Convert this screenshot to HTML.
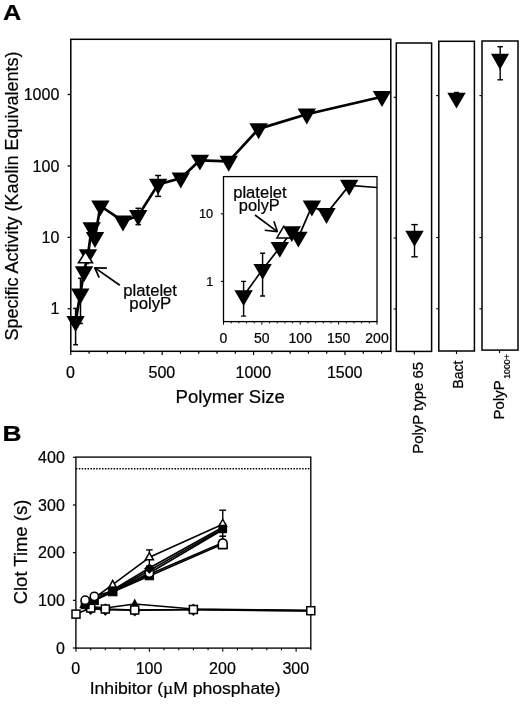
<!DOCTYPE html>
<html><head><meta charset="utf-8"><title>Figure</title>
<style>
html,body{margin:0;padding:0;background:#fff;overflow:hidden;}
svg{display:block;font-family:'Liberation Sans', Arial, Helvetica, sans-serif;fill:#000;}
svg text{stroke:#000;stroke-width:0.22px;}
svg polygon, svg rect, svg circle{shape-rendering:geometricPrecision;}
</style></head><body>
<svg width="520" height="709" viewBox="0 0 520 709">
<rect x="0" y="0" width="520" height="709" fill="#fff" stroke="none"/>
<text x="3.00" y="20.00" font-size="22" text-anchor="start" font-weight="bold" textLength="18.30" lengthAdjust="spacingAndGlyphs" >A</text>
<rect x="70.80" y="39.30" width="320.00" height="312.00" fill="none" stroke="#000" stroke-width="1.5"/>
<line x1="67.60" y1="308.75" x2="70.80" y2="308.75" stroke="#000" stroke-width="1.3" />
<text x="59.30" y="314.35" font-size="16" text-anchor="end" font-weight="normal" >1</text>
<line x1="67.60" y1="237.33" x2="70.80" y2="237.33" stroke="#000" stroke-width="1.3" />
<text x="59.30" y="242.93" font-size="16" text-anchor="end" font-weight="normal" >10</text>
<line x1="67.60" y1="165.92" x2="70.80" y2="165.92" stroke="#000" stroke-width="1.3" />
<text x="59.30" y="171.52" font-size="16" text-anchor="end" font-weight="normal" >100</text>
<line x1="67.60" y1="94.50" x2="70.80" y2="94.50" stroke="#000" stroke-width="1.3" />
<text x="59.30" y="100.10" font-size="16" text-anchor="end" font-weight="normal" >1000</text>
<line x1="70.80" y1="351.30" x2="70.80" y2="354.90" stroke="#000" stroke-width="1.2" />
<line x1="89.08" y1="351.30" x2="89.08" y2="353.70" stroke="#000" stroke-width="1.2" />
<line x1="107.36" y1="351.30" x2="107.36" y2="353.70" stroke="#000" stroke-width="1.2" />
<line x1="125.64" y1="351.30" x2="125.64" y2="353.70" stroke="#000" stroke-width="1.2" />
<line x1="143.92" y1="351.30" x2="143.92" y2="353.70" stroke="#000" stroke-width="1.2" />
<line x1="162.20" y1="351.30" x2="162.20" y2="354.90" stroke="#000" stroke-width="1.2" />
<line x1="180.48" y1="351.30" x2="180.48" y2="353.70" stroke="#000" stroke-width="1.2" />
<line x1="198.76" y1="351.30" x2="198.76" y2="353.70" stroke="#000" stroke-width="1.2" />
<line x1="217.04" y1="351.30" x2="217.04" y2="353.70" stroke="#000" stroke-width="1.2" />
<line x1="235.32" y1="351.30" x2="235.32" y2="353.70" stroke="#000" stroke-width="1.2" />
<line x1="253.60" y1="351.30" x2="253.60" y2="354.90" stroke="#000" stroke-width="1.2" />
<line x1="271.88" y1="351.30" x2="271.88" y2="353.70" stroke="#000" stroke-width="1.2" />
<line x1="290.16" y1="351.30" x2="290.16" y2="353.70" stroke="#000" stroke-width="1.2" />
<line x1="308.44" y1="351.30" x2="308.44" y2="353.70" stroke="#000" stroke-width="1.2" />
<line x1="326.72" y1="351.30" x2="326.72" y2="353.70" stroke="#000" stroke-width="1.2" />
<line x1="345.00" y1="351.30" x2="345.00" y2="354.90" stroke="#000" stroke-width="1.2" />
<line x1="363.28" y1="351.30" x2="363.28" y2="353.70" stroke="#000" stroke-width="1.2" />
<line x1="381.56" y1="351.30" x2="381.56" y2="353.70" stroke="#000" stroke-width="1.2" />
<text x="70.50" y="377.60" font-size="16" text-anchor="middle" font-weight="normal" >0</text>
<text x="161.90" y="377.60" font-size="16" text-anchor="middle" font-weight="normal" >500</text>
<text x="253.30" y="377.60" font-size="16" text-anchor="middle" font-weight="normal" >1000</text>
<text x="344.70" y="377.60" font-size="16" text-anchor="middle" font-weight="normal" >1500</text>
<text x="175.60" y="403.00" font-size="18" text-anchor="start" font-weight="normal" textLength="109.30" lengthAdjust="spacingAndGlyphs" >Polymer Size</text>
<text x="18.00" y="340.40" font-size="17.8" text-anchor="start" font-weight="normal" transform="rotate(-90 18.00 340.40)" textLength="289.00" lengthAdjust="spacingAndGlyphs" >Specific Activity (Kaolin Equivalents)</text>
<clipPath id="cA"><rect x="70.8" y="39.3" width="320.6" height="312.0"/></clipPath>
<g>
<polyline points="75.60,321.60 80.30,294.10 84.00,271.90 88.00,254.80 91.70,227.90 95.00,237.60 100.40,206.00 123.00,221.20 138.20,215.70 158.10,184.40 180.80,178.20 199.90,160.30 228.70,161.40 258.60,128.90 306.80,114.20 382.00,96.70" fill="none" stroke="#000" stroke-width="2.7" stroke-linejoin="round"/>
<line x1="75.60" y1="308.40" x2="75.60" y2="344.70" stroke="#000" stroke-width="1.5" />
<line x1="73.20" y1="308.40" x2="78.00" y2="308.40" stroke="#000" stroke-width="1.5" />
<line x1="73.20" y1="344.70" x2="78.00" y2="344.70" stroke="#000" stroke-width="1.5" />
<line x1="80.50" y1="278.30" x2="80.50" y2="323.50" stroke="#000" stroke-width="1.5" />
<line x1="78.10" y1="278.30" x2="82.90" y2="278.30" stroke="#000" stroke-width="1.5" />
<line x1="78.10" y1="323.50" x2="82.90" y2="323.50" stroke="#000" stroke-width="1.5" />
<line x1="138.20" y1="208.30" x2="138.20" y2="224.60" stroke="#000" stroke-width="1.5" />
<line x1="135.45" y1="208.30" x2="140.95" y2="208.30" stroke="#000" stroke-width="1.5" />
<line x1="135.45" y1="224.60" x2="140.95" y2="224.60" stroke="#000" stroke-width="1.5" />
<line x1="158.10" y1="175.50" x2="158.10" y2="196.40" stroke="#000" stroke-width="1.5" />
<line x1="155.10" y1="175.50" x2="161.10" y2="175.50" stroke="#000" stroke-width="1.5" />
<line x1="155.10" y1="196.40" x2="161.10" y2="196.40" stroke="#000" stroke-width="1.5" />
<polygon points="66.40,316.00 84.80,316.00 75.60,331.90" fill="#000"/>
<polygon points="71.10,288.50 89.50,288.50 80.30,304.40" fill="#000"/>
<polygon points="74.80,266.30 93.20,266.30 84.00,282.20" fill="#000"/>
<polygon points="78.80,249.20 97.20,249.20 88.00,265.10" fill="#000"/>
<polygon points="77.10,263.60 93.90,263.60 85.50,250.10" fill="#000"/>
<polygon points="79.98,262.00 91.02,262.00 85.50,253.13" fill="#fff"/>
<polygon points="82.50,222.30 100.90,222.30 91.70,238.20" fill="#000"/>
<polygon points="85.80,232.00 104.20,232.00 95.00,247.90" fill="#000"/>
<polygon points="91.20,200.40 109.60,200.40 100.40,216.30" fill="#000"/>
<polygon points="113.80,215.60 132.20,215.60 123.00,231.50" fill="#000"/>
<polygon points="129.00,210.10 147.40,210.10 138.20,226.00" fill="#000"/>
<polygon points="148.90,178.80 167.30,178.80 158.10,194.70" fill="#000"/>
<polygon points="171.60,172.60 190.00,172.60 180.80,188.50" fill="#000"/>
<polygon points="190.70,154.70 209.10,154.70 199.90,170.60" fill="#000"/>
<polygon points="219.50,155.80 237.90,155.80 228.70,171.70" fill="#000"/>
<polygon points="249.40,123.30 267.80,123.30 258.60,139.20" fill="#000"/>
<polygon points="297.60,108.60 316.00,108.60 306.80,124.50" fill="#000"/>
<polygon points="372.80,91.10 391.20,91.10 382.00,107.00" fill="#000"/>
</g>
<text x="123.30" y="295.80" font-size="16.3" text-anchor="start" font-weight="normal" textLength="53.70" lengthAdjust="spacingAndGlyphs" >platelet</text>
<text x="129.30" y="309.00" font-size="16.3" text-anchor="start" font-weight="normal" textLength="42.00" lengthAdjust="spacingAndGlyphs" >polyP</text>
<line x1="119.80" y1="285.20" x2="95.00" y2="267.90" stroke="#000" stroke-width="1.7" />
<line x1="94.30" y1="267.80" x2="106.90" y2="268.10" stroke="#000" stroke-width="1.7" />
<line x1="94.60" y1="267.40" x2="99.20" y2="277.60" stroke="#000" stroke-width="1.7" />
<rect x="223.50" y="176.60" width="153.50" height="145.00" fill="#fff" stroke="#000" stroke-width="1.3"/>
<line x1="220.90" y1="281.40" x2="223.50" y2="281.40" stroke="#000" stroke-width="1.1" />
<text x="213.20" y="286.00" font-size="12.7" text-anchor="end" font-weight="normal" stroke-width="0.25">1</text>
<line x1="220.90" y1="213.80" x2="223.50" y2="213.80" stroke="#000" stroke-width="1.1" />
<text x="213.20" y="218.40" font-size="12.7" text-anchor="end" font-weight="normal" stroke-width="0.25">10</text>
<line x1="223.50" y1="321.60" x2="223.50" y2="324.60" stroke="#000" stroke-width="1.0" />
<line x1="231.18" y1="321.60" x2="231.18" y2="323.40" stroke="#000" stroke-width="1.0" />
<line x1="238.85" y1="321.60" x2="238.85" y2="323.40" stroke="#000" stroke-width="1.0" />
<line x1="246.53" y1="321.60" x2="246.53" y2="323.40" stroke="#000" stroke-width="1.0" />
<line x1="254.20" y1="321.60" x2="254.20" y2="323.40" stroke="#000" stroke-width="1.0" />
<line x1="261.88" y1="321.60" x2="261.88" y2="324.60" stroke="#000" stroke-width="1.0" />
<line x1="269.55" y1="321.60" x2="269.55" y2="323.40" stroke="#000" stroke-width="1.0" />
<line x1="277.23" y1="321.60" x2="277.23" y2="323.40" stroke="#000" stroke-width="1.0" />
<line x1="284.90" y1="321.60" x2="284.90" y2="323.40" stroke="#000" stroke-width="1.0" />
<line x1="292.57" y1="321.60" x2="292.57" y2="323.40" stroke="#000" stroke-width="1.0" />
<line x1="300.25" y1="321.60" x2="300.25" y2="324.60" stroke="#000" stroke-width="1.0" />
<line x1="307.93" y1="321.60" x2="307.93" y2="323.40" stroke="#000" stroke-width="1.0" />
<line x1="315.60" y1="321.60" x2="315.60" y2="323.40" stroke="#000" stroke-width="1.0" />
<line x1="323.27" y1="321.60" x2="323.27" y2="323.40" stroke="#000" stroke-width="1.0" />
<line x1="330.95" y1="321.60" x2="330.95" y2="323.40" stroke="#000" stroke-width="1.0" />
<line x1="338.62" y1="321.60" x2="338.62" y2="324.60" stroke="#000" stroke-width="1.0" />
<line x1="346.30" y1="321.60" x2="346.30" y2="323.40" stroke="#000" stroke-width="1.0" />
<line x1="353.98" y1="321.60" x2="353.98" y2="323.40" stroke="#000" stroke-width="1.0" />
<line x1="361.65" y1="321.60" x2="361.65" y2="323.40" stroke="#000" stroke-width="1.0" />
<line x1="369.32" y1="321.60" x2="369.32" y2="323.40" stroke="#000" stroke-width="1.0" />
<line x1="377.00" y1="321.60" x2="377.00" y2="324.60" stroke="#000" stroke-width="1.0" />
<text x="223.50" y="343.30" font-size="14" text-anchor="middle" font-weight="normal" stroke-width="0.25">0</text>
<text x="261.88" y="343.30" font-size="14" text-anchor="middle" font-weight="normal" stroke-width="0.25">50</text>
<text x="300.25" y="343.30" font-size="14" text-anchor="middle" font-weight="normal" stroke-width="0.25">100</text>
<text x="338.62" y="343.30" font-size="14" text-anchor="middle" font-weight="normal" stroke-width="0.25">150</text>
<text x="377.00" y="343.30" font-size="14" text-anchor="middle" font-weight="normal" stroke-width="0.25">200</text>
<clipPath id="cI"><rect x="223.5" y="176.6" width="153.5" height="145.00000000000003"/></clipPath>
<g clip-path="url(#cI)">
<polyline points="243.60,295.80 262.60,269.50 279.80,247.50 291.80,231.80 298.40,237.30 311.90,206.20 326.50,213.60 349.20,185.40 377.00,187.50" fill="none" stroke="#000" stroke-width="1.7" stroke-linejoin="round"/>
<line x1="243.60" y1="281.40" x2="243.60" y2="316.10" stroke="#000" stroke-width="1.4" />
<line x1="241.10" y1="281.40" x2="246.10" y2="281.40" stroke="#000" stroke-width="1.4" />
<line x1="241.10" y1="316.10" x2="246.10" y2="316.10" stroke="#000" stroke-width="1.4" />
<line x1="262.60" y1="253.30" x2="262.60" y2="296.00" stroke="#000" stroke-width="1.4" />
<line x1="260.10" y1="253.30" x2="265.10" y2="253.30" stroke="#000" stroke-width="1.4" />
<line x1="260.10" y1="296.00" x2="265.10" y2="296.00" stroke="#000" stroke-width="1.4" />
<polygon points="234.40,290.20 252.80,290.20 243.60,306.10" fill="#000"/>
<polygon points="253.40,263.90 271.80,263.90 262.60,279.80" fill="#000"/>
<polygon points="270.60,241.90 289.00,241.90 279.80,257.80" fill="#000"/>
<polygon points="282.60,226.20 301.00,226.20 291.80,242.10" fill="#000"/>
<polygon points="275.50,238.73 292.10,238.73 283.80,224.83" fill="#000"/>
<polygon points="278.14,237.23 289.46,237.23 283.80,227.76" fill="#fff"/>
<polygon points="289.20,231.70 307.60,231.70 298.40,247.60" fill="#000"/>
<polygon points="302.70,200.60 321.10,200.60 311.90,216.50" fill="#000"/>
<polygon points="317.30,208.00 335.70,208.00 326.50,223.90" fill="#000"/>
<polygon points="340.00,179.80 358.40,179.80 349.20,195.70" fill="#000"/>
</g>
<text x="233.20" y="198.40" font-size="16.3" text-anchor="start" font-weight="normal" textLength="53.50" lengthAdjust="spacingAndGlyphs" >platelet</text>
<text x="238.80" y="210.60" font-size="16.3" text-anchor="start" font-weight="normal" textLength="41.00" lengthAdjust="spacingAndGlyphs" >polyP</text>
<line x1="255.00" y1="215.00" x2="277.00" y2="231.30" stroke="#000" stroke-width="1.6" />
<line x1="277.50" y1="231.60" x2="264.70" y2="230.30" stroke="#000" stroke-width="1.6" />
<line x1="277.40" y1="231.80" x2="273.90" y2="221.20" stroke="#000" stroke-width="1.6" />
<rect x="396.30" y="43.00" width="35.30" height="308.40" fill="none" stroke="#000" stroke-width="1.5"/>
<line x1="393.70" y1="97.30" x2="396.30" y2="97.30" stroke="#000" stroke-width="1.1" />
<line x1="393.70" y1="238.00" x2="396.30" y2="238.00" stroke="#000" stroke-width="1.1" />
<line x1="393.70" y1="309.00" x2="396.30" y2="309.00" stroke="#000" stroke-width="1.1" />
<line x1="414.30" y1="351.40" x2="414.30" y2="354.40" stroke="#000" stroke-width="1.1" />
<rect x="438.80" y="41.30" width="35.60" height="309.70" fill="none" stroke="#000" stroke-width="1.5"/>
<line x1="436.20" y1="95.60" x2="438.80" y2="95.60" stroke="#000" stroke-width="1.1" />
<line x1="436.20" y1="237.50" x2="438.80" y2="237.50" stroke="#000" stroke-width="1.1" />
<line x1="436.20" y1="308.80" x2="438.80" y2="308.80" stroke="#000" stroke-width="1.1" />
<line x1="456.50" y1="351.00" x2="456.50" y2="354.00" stroke="#000" stroke-width="1.1" />
<rect x="482.00" y="41.00" width="36.00" height="309.10" fill="none" stroke="#000" stroke-width="1.5"/>
<line x1="479.40" y1="95.60" x2="482.00" y2="95.60" stroke="#000" stroke-width="1.1" />
<line x1="479.40" y1="237.50" x2="482.00" y2="237.50" stroke="#000" stroke-width="1.1" />
<line x1="479.40" y1="308.80" x2="482.00" y2="308.80" stroke="#000" stroke-width="1.1" />
<line x1="499.50" y1="350.10" x2="499.50" y2="353.10" stroke="#000" stroke-width="1.1" />
<line x1="414.50" y1="224.60" x2="414.50" y2="256.80" stroke="#000" stroke-width="1.4" />
<line x1="411.25" y1="224.60" x2="417.75" y2="224.60" stroke="#000" stroke-width="1.4" />
<line x1="411.25" y1="256.80" x2="417.75" y2="256.80" stroke="#000" stroke-width="1.4" />
<polygon points="405.30,230.80 423.70,230.80 414.50,246.70" fill="#000"/>
<line x1="456.50" y1="92.50" x2="456.50" y2="96.00" stroke="#000" stroke-width="1.4" />
<line x1="454.00" y1="92.50" x2="459.00" y2="92.50" stroke="#000" stroke-width="1.4" />
<line x1="454.00" y1="96.00" x2="459.00" y2="96.00" stroke="#000" stroke-width="1.4" />
<polygon points="447.30,92.70 465.70,92.70 456.50,108.60" fill="#000"/>
<line x1="500.20" y1="46.70" x2="500.20" y2="79.80" stroke="#000" stroke-width="1.4" />
<line x1="497.45" y1="46.70" x2="502.95" y2="46.70" stroke="#000" stroke-width="1.4" />
<line x1="497.45" y1="79.80" x2="502.95" y2="79.80" stroke="#000" stroke-width="1.4" />
<polygon points="491.00,53.87 509.00,53.87 500.00,69.87" fill="#000"/>
<text x="422.80" y="453.80" font-size="15" text-anchor="start" font-weight="normal" transform="rotate(-90 422.80 453.80)" textLength="91.80" lengthAdjust="spacingAndGlyphs" >PolyP type 65</text>
<text x="463.00" y="388.80" font-size="15" text-anchor="start" font-weight="normal" transform="rotate(-90 463.00 388.80)" textLength="28.30" lengthAdjust="spacingAndGlyphs" >Bact</text>
<text x="504.50" y="419.40" font-size="15" text-anchor="start" font-weight="normal" transform="rotate(-90 504.50 419.40)" textLength="39.00" lengthAdjust="spacingAndGlyphs" >PolyP</text>
<text x="510.00" y="378.80" font-size="9" text-anchor="start" font-weight="normal" transform="rotate(-90 510.00 378.80)" textLength="24.60" lengthAdjust="spacingAndGlyphs" stroke-width="0.1">1000+</text>
<text x="2.40" y="441.30" font-size="22.3" text-anchor="start" font-weight="bold" textLength="19.00" lengthAdjust="spacingAndGlyphs" >B</text>
<rect x="75.90" y="457.10" width="234.90" height="191.00" fill="none" stroke="#000" stroke-width="1.35"/>
<line x1="72.90" y1="648.00" x2="75.90" y2="648.00" stroke="#000" stroke-width="1.2" />
<text x="64.80" y="653.60" font-size="16" text-anchor="end" font-weight="normal" >0</text>
<line x1="72.90" y1="600.32" x2="75.90" y2="600.32" stroke="#000" stroke-width="1.2" />
<text x="64.80" y="605.92" font-size="16" text-anchor="end" font-weight="normal" >100</text>
<line x1="72.90" y1="552.64" x2="75.90" y2="552.64" stroke="#000" stroke-width="1.2" />
<text x="64.80" y="558.24" font-size="16" text-anchor="end" font-weight="normal" >200</text>
<line x1="72.90" y1="504.96" x2="75.90" y2="504.96" stroke="#000" stroke-width="1.2" />
<text x="64.80" y="510.56" font-size="16" text-anchor="end" font-weight="normal" >300</text>
<line x1="72.90" y1="457.28" x2="75.90" y2="457.28" stroke="#000" stroke-width="1.2" />
<text x="64.80" y="462.88" font-size="16" text-anchor="end" font-weight="normal" >400</text>
<line x1="76.00" y1="648.10" x2="76.00" y2="651.70" stroke="#000" stroke-width="1.1" />
<line x1="90.67" y1="648.10" x2="90.67" y2="650.30" stroke="#000" stroke-width="1.1" />
<line x1="105.35" y1="648.10" x2="105.35" y2="650.30" stroke="#000" stroke-width="1.1" />
<line x1="120.02" y1="648.10" x2="120.02" y2="650.30" stroke="#000" stroke-width="1.1" />
<line x1="134.70" y1="648.10" x2="134.70" y2="650.30" stroke="#000" stroke-width="1.1" />
<line x1="149.37" y1="648.10" x2="149.37" y2="651.70" stroke="#000" stroke-width="1.1" />
<line x1="164.04" y1="648.10" x2="164.04" y2="650.30" stroke="#000" stroke-width="1.1" />
<line x1="178.72" y1="648.10" x2="178.72" y2="650.30" stroke="#000" stroke-width="1.1" />
<line x1="193.39" y1="648.10" x2="193.39" y2="650.30" stroke="#000" stroke-width="1.1" />
<line x1="208.07" y1="648.10" x2="208.07" y2="650.30" stroke="#000" stroke-width="1.1" />
<line x1="222.74" y1="648.10" x2="222.74" y2="651.70" stroke="#000" stroke-width="1.1" />
<line x1="237.41" y1="648.10" x2="237.41" y2="650.30" stroke="#000" stroke-width="1.1" />
<line x1="252.09" y1="648.10" x2="252.09" y2="650.30" stroke="#000" stroke-width="1.1" />
<line x1="266.76" y1="648.10" x2="266.76" y2="650.30" stroke="#000" stroke-width="1.1" />
<line x1="281.44" y1="648.10" x2="281.44" y2="650.30" stroke="#000" stroke-width="1.1" />
<line x1="296.11" y1="648.10" x2="296.11" y2="651.70" stroke="#000" stroke-width="1.1" />
<line x1="310.78" y1="648.10" x2="310.78" y2="650.30" stroke="#000" stroke-width="1.1" />
<text x="75.70" y="674.00" font-size="16" text-anchor="middle" font-weight="normal" >0</text>
<text x="149.07" y="674.00" font-size="16" text-anchor="middle" font-weight="normal" >100</text>
<text x="222.44" y="674.00" font-size="16" text-anchor="middle" font-weight="normal" >200</text>
<text x="295.81" y="674.00" font-size="16" text-anchor="middle" font-weight="normal" >300</text>
<text x="89.70" y="693.70" font-size="17.3" text-anchor="start" font-weight="normal" textLength="191.00" lengthAdjust="spacingAndGlyphs" >Inhibitor (<tspan font-family="'Liberation Serif', serif">µ</tspan>M phosphate)</text>
<text x="26.60" y="604.30" font-size="18" text-anchor="start" font-weight="normal" transform="rotate(-90 26.60 604.30)" textLength="104.60" lengthAdjust="spacingAndGlyphs" >Clot Time (s)</text>
<line x1="75.9" y1="468.8" x2="310.8" y2="468.8" stroke="#000" stroke-width="1.5" stroke-dasharray="1.5 1.4"/>
<polyline points="83.34,607.00 90.67,608.80 105.35,609.60 134.70,610.30 193.39,609.80 310.78,611.00" fill="none" stroke="#000" stroke-width="1.6" stroke-linejoin="round"/>
<polyline points="83.34,605.50 90.67,606.50 105.35,608.00 134.70,604.00 193.39,609.00 310.78,610.40" fill="none" stroke="#000" stroke-width="1.6" stroke-linejoin="round"/>
<polyline points="76.00,614.10 90.67,608.00 105.35,609.00 134.70,610.00 193.39,609.50 310.78,610.70" fill="none" stroke="#000" stroke-width="1.6" stroke-linejoin="round"/>
<polyline points="85.17,604.70 94.34,600.60 112.69,592.00 149.37,576.00 222.74,544.00" fill="none" stroke="#000" stroke-width="1.6" stroke-linejoin="round"/>
<polyline points="85.17,600.20 94.34,596.30 112.69,591.00 149.37,574.30 222.74,542.80" fill="none" stroke="#000" stroke-width="1.6" stroke-linejoin="round"/>
<polyline points="85.17,604.70 94.34,600.30 112.69,591.40 149.37,573.00 222.74,529.80" fill="none" stroke="#000" stroke-width="1.6" stroke-linejoin="round"/>
<polyline points="85.17,604.00 94.34,600.00 112.69,590.80 149.37,570.50 222.74,528.60" fill="none" stroke="#000" stroke-width="1.6" stroke-linejoin="round"/>
<polyline points="85.17,603.50 94.34,599.50 112.69,590.00 149.37,568.00 222.74,527.20" fill="none" stroke="#000" stroke-width="1.6" stroke-linejoin="round"/>
<polyline points="85.17,602.50 94.34,598.00 112.69,584.60 149.37,557.30 222.74,524.30" fill="none" stroke="#000" stroke-width="1.6" stroke-linejoin="round"/>
<line x1="149.37" y1="549.90" x2="149.37" y2="566.00" stroke="#000" stroke-width="1.4" />
<line x1="146.07" y1="549.90" x2="152.67" y2="549.90" stroke="#000" stroke-width="1.4" />
<line x1="146.07" y1="566.00" x2="152.67" y2="566.00" stroke="#000" stroke-width="1.4" />
<line x1="222.74" y1="510.20" x2="222.74" y2="524.00" stroke="#000" stroke-width="1.4" />
<line x1="219.34" y1="510.20" x2="226.14" y2="510.20" stroke="#000" stroke-width="1.4" />
<line x1="219.34" y1="524.00" x2="226.14" y2="524.00" stroke="#000" stroke-width="1.4" />
<line x1="222.74" y1="530.00" x2="222.74" y2="540.00" stroke="#000" stroke-width="1.4" />
<line x1="219.44" y1="536.20" x2="226.04" y2="536.20" stroke="#000" stroke-width="1.6" />
<polygon points="84.87,608.80 90.67,603.00 96.47,608.80 90.67,614.60" fill="#000" stroke="#000" stroke-width="0.8"/>
<polygon points="99.55,609.60 105.35,603.80 111.15,609.60 105.35,615.40" fill="#000" stroke="#000" stroke-width="0.8"/>
<polygon points="128.90,610.30 134.70,604.50 140.50,610.30 134.70,616.10" fill="#000" stroke="#000" stroke-width="0.8"/>
<polygon points="187.59,609.80 193.39,604.00 199.19,609.80 193.39,615.60" fill="#000" stroke="#000" stroke-width="0.8"/>
<polygon points="79.34,608.00 87.34,608.00 83.34,600.50" fill="#000"/>
<polygon points="130.70,606.20 138.70,606.20 134.70,598.40" fill="#000"/>
<rect x="72.00" y="610.10" width="8" height="8" fill="#fff" stroke="#000" stroke-width="1.5"/>
<rect x="86.67" y="604.00" width="8" height="8" fill="#fff" stroke="#000" stroke-width="1.5"/>
<rect x="101.35" y="605.00" width="8" height="8" fill="#fff" stroke="#000" stroke-width="1.5"/>
<rect x="130.70" y="606.00" width="8" height="8" fill="#fff" stroke="#000" stroke-width="1.5"/>
<rect x="189.39" y="605.50" width="8" height="8" fill="#fff" stroke="#000" stroke-width="1.5"/>
<rect x="306.78" y="606.70" width="8" height="8" fill="#fff" stroke="#000" stroke-width="1.5"/>
<rect x="81.17" y="600.70" width="8" height="8" fill="#000" stroke="#000" stroke-width="1"/>
<rect x="90.34" y="596.60" width="8" height="8" fill="#000" stroke="#000" stroke-width="1"/>
<circle cx="85.17" cy="600.20" r="4.1" fill="#fff" stroke="#000" stroke-width="1.5"/>
<circle cx="94.34" cy="596.30" r="4.1" fill="#fff" stroke="#000" stroke-width="1.5"/>
<polygon points="107.89,588.03 117.48,588.03 112.69,578.63" fill="#000"/>
<polygon points="110.34,586.53 115.03,586.53 112.69,581.93" fill="#fff"/>
<rect x="108.39" y="587.20" width="8.6" height="8.6" fill="#000" stroke="#000" stroke-width="1"/>
<rect x="145.17" y="571.40" width="8.4" height="8.4" fill="#000" stroke="#000" stroke-width="1"/>
<circle cx="149.37" cy="573.10" r="4.1" fill="#fff" stroke="#000" stroke-width="1.4"/>
<polygon points="144.47,568.60 149.37,563.70 154.27,568.60 149.37,573.50" fill="#000" stroke="#000" stroke-width="0.8"/>
<polygon points="144.07,560.57 154.67,560.57 149.37,551.37" fill="#000"/>
<polygon points="146.67,559.07 152.07,559.07 149.37,554.37" fill="#fff"/>
<polygon points="217.64,527.00 227.84,527.00 222.74,517.70" fill="#000"/>
<polygon points="220.17,525.50 225.31,525.50 222.74,520.82" fill="#fff"/>
<rect x="218.34" y="524.7" width="8.8" height="8.6" rx="1.2" fill="#000"/>
<path d="M218.34,548.6 L218.34,543.3 A4.4,4.4 0 0 1 227.14,543.3 L227.14,548.6 Z" fill="#fff" stroke="#000" stroke-width="1.6" stroke-linejoin="round"/>
</svg>
</body></html>
